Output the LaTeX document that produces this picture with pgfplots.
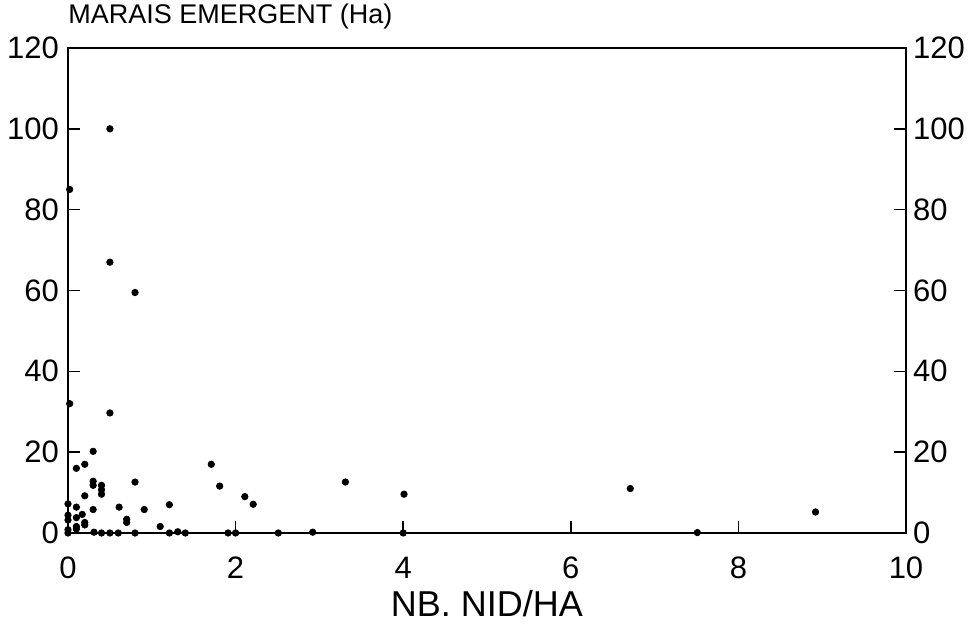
\documentclass[border=0pt]{standalone}
\usepackage{fontspec}
\setmainfont{Liberation Sans}
\usepackage{pgfplots}
\usetikzlibrary{calc}
\pgfplotsset{compat=1.18}
\begin{document}
\begin{tikzpicture}
\pgfplotsset{
  common/.style={
    scale only axis, width=419pt, height=242.5pt,
    xmin=0, xmax=10, ymin=0, ymax=120,
    xtick={0,2,...,10}, ytick={0,20,...,120},
    tick align=inside, major tick length=6pt,
    tick style={line width=0.8pt, black},
    axis line style={line width=1pt},
    /pgf/number format/assume math mode=true,
    ticklabel style={font=\fontsize{15.5}{17}\selectfont},
    yticklabel style={xshift=-1pt},
  }
}
\begin{axis}[common,
  xtick pos=bottom, ytick pos=both,
  xticklabel style={yshift=-8.5pt},
]
\addplot[only marks, mark=*, mark size=1.6pt, black] coordinates {
(0.5,100) (0.02,85) (0.5,67) (0.8,59.5) (0.02,32) (0.5,29.7)
(0.3,20.2) (0.1,16.0) (0.2,17.0) (0.3,12.8) (0.3,11.8) (0.4,11.8) (0.4,10.7) (0.4,9.6)
(0.8,12.6) (0.2,9.2) (0,7.2) (0.1,6.4) (0.3,5.8) (0.61,6.4) (0.91,5.8) (1.21,7.0)
(0,4.4) (0,3.2) (0.1,3.8) (0.17,4.6) (0.2,2.6) (0.2,2.0) (0.1,1.6) (0.1,1.0)
(0.7,3.4) (0.7,2.6) (1.1,1.6) (0,0.8) (0,0) (0.31,0.2) (0.4,0) (0.5,0) (0.6,0)
(0.8,0) (1.21,0) (1.31,0.3) (1.4,0)
(1.71,17.0) (1.81,11.6) (2.11,9.0) (2.21,7.1) (3.31,12.6) (4.01,9.6) (6.71,11.0) (8.92,5.2)
(1.91,0) (2.0,0) (2.51,0) (2.92,0.2) (4.0,0) (7.51,0.1)
};
\coordinate (sw) at (rel axis cs:0,0);
\coordinate (ne) at (rel axis cs:1,1);
\end{axis}
\begin{axis}[common,
  hide x axis, ytick pos=right, yticklabel pos=right,
  yticklabel style={xshift=1pt},
]
\end{axis}
\node[anchor=base west, inner sep=0pt, font=\fontsize{13.5}{15}\selectfont] at ($(sw|-ne)+(0,12pt)$) {MARAIS EMERGENT (Ha)};
\node[anchor=base, inner sep=0pt, font=\fontsize{18}{20}\selectfont] at ($(sw)!0.5!(sw-|ne)+(0,-42pt)$) {NB. NID/HA};
\pgfresetboundingbox
\path[use as bounding box] ($(sw)+(-34pt,-53.5pt)$) rectangle ($(ne)+(32pt,24pt)$);
\end{tikzpicture}
\end{document}
